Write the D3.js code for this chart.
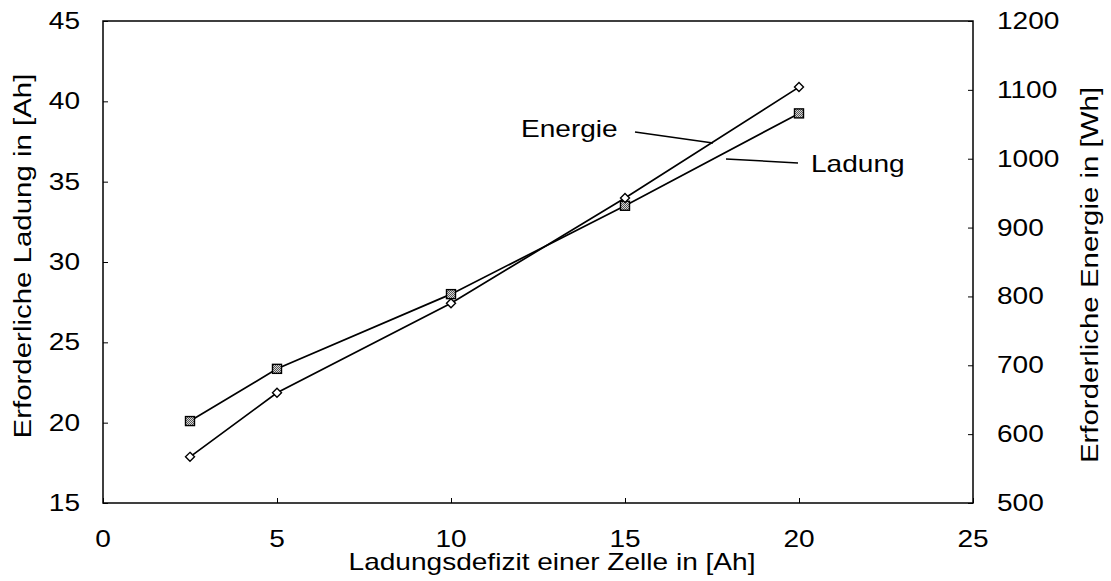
<!DOCTYPE html>
<html>
<head>
<meta charset="utf-8">
<script src="https://cdn.jsdelivr.net/npm/d3@7"></script>
<style>
  body { margin: 0; background: #fff; }
  svg text { font-family: 'Liberation Sans', Arial, sans-serif; fill: #000; }
</style>
</head>
<body>
<svg id="chart" width="1111" height="581"></svg>
<script>
const defizit = [2.5, 5, 10, 15, 20]
const ladung = [20.1, 23.35, 28.0, 33.5, 39.25]
const energie = [567, 660, 790, 943, 1104]

const xTicks = [0, 5, 10, 15, 20, 25]
const yLeftTicks = [15, 20, 25, 30, 35, 40, 45]
const yRightTicks = [500, 600, 700, 800, 900, 1000, 1100, 1200]

const svg = d3.select('#chart')
const margin = { left: 103, right: 138, top: 21, bottom: 78 }
const width = 1111 - margin.left - margin.right
const height = 581 - margin.top - margin.bottom

const xScale = d3.scaleLinear().domain([0, 25]).range([0, width])
const yLeft = d3.scaleLinear().domain([15, 45]).range([height, 0])
const yRight = d3.scaleLinear().domain([500, 1200]).range([height, 0])

// the original font is a bit wider than Liberation Sans
const fontSize = '23px'
const stretch = 'scale(1.22, 1)'
const stretchTitle = 'scale(1.28, 1)'

const defs = svg.append('defs')
const pat = defs.append('pattern').attr('id', 'hatch').attr('patternUnits', 'userSpaceOnUse').attr('width', 2).attr('height', 2)
pat.append('rect').attr('width', 2).attr('height', 2).attr('fill', '#d8d8d8')
pat.append('rect').attr('width', 1).attr('height', 1).attr('fill', '#555')
pat.append('rect').attr('x', 1).attr('y', 1).attr('width', 1).attr('height', 1).attr('fill', '#555')

const g = svg.append('g').attr('transform', `translate(${margin.left}, ${margin.top})`)

g.append('rect').attr('width', width).attr('height', height).attr('fill', 'none').attr('stroke', '#000').attr('stroke-width', 1.5)

// x axis, ticks pointing inward
const xAxis = g.append('g').attr('transform', `translate(0, ${height})`)
  .call(d3.axisTop(xScale).tickValues(xTicks).tickSize(5).tickFormat(''))
xAxis.select('.domain').remove()
g.selectAll('.xlabel').data(xTicks).enter().append('text')
  .attr('transform', (d) => `translate(${xScale(d)}, ${height + 44}) ${stretch}`)
  .attr('text-anchor', 'middle').attr('font-size', fontSize).text((d) => d)

const leftAxis = g.append('g').call(d3.axisRight(yLeft).tickValues(yLeftTicks).tickSize(5).tickFormat(''))
leftAxis.select('.domain').remove()
g.selectAll('.ylabel').data(yLeftTicks).enter().append('text')
  .attr('transform', (d) => `translate(-23, ${yLeft(d) + 8}) ${stretch}`)
  .attr('text-anchor', 'end').attr('font-size', fontSize).text((d) => d)

const rightAxis = g.append('g').attr('transform', `translate(${width}, 0)`)
  .call(d3.axisLeft(yRight).tickValues(yRightTicks).tickSize(5).tickFormat(''))
rightAxis.select('.domain').remove()
g.selectAll('.rlabel').data(yRightTicks).enter().append('text')
  .attr('transform', (d) => `translate(${width + 24}, ${yRight(d) + 8}) ${stretch}`)
  .attr('text-anchor', 'start').attr('font-size', fontSize).text((d) => d)

// axis titles
svg.append('text').attr('transform', `translate(31, 256) rotate(-90) ${stretchTitle}`)
  .attr('text-anchor', 'middle').attr('font-size', fontSize).text('Erforderliche Ladung in [Ah]')
svg.append('text').attr('transform', `translate(1098, 275) rotate(-90) ${stretchTitle}`)
  .attr('text-anchor', 'middle').attr('font-size', fontSize).text('Erforderliche Energie in [Wh]')
svg.append('text').attr('transform', `translate(552, 570) ${stretch}`)
  .attr('text-anchor', 'middle').attr('font-size', fontSize).text('Ladungsdefizit einer Zelle in [Ah]')

// lines
const lineL = d3.line().x((d, i) => xScale(defizit[i])).y((d) => yLeft(d))
const lineE = d3.line().x((d, i) => xScale(defizit[i])).y((d) => yRight(d))

g.append('path').datum(ladung).attr('d', lineL).attr('fill', 'none').attr('stroke', '#000').attr('stroke-width', 1.7)
g.append('path').datum(energie).attr('d', lineE).attr('fill', 'none').attr('stroke', '#000').attr('stroke-width', 1.7)

// markers
g.selectAll('.sq').data(ladung).enter().append('rect')
  .attr('x', (d, i) => xScale(defizit[i]) - 4.5).attr('y', (d) => yLeft(d) - 4.5)
  .attr('width', 9).attr('height', 9)
  .attr('fill', 'url(#hatch)').attr('stroke', '#000').attr('stroke-width', 1.4)

g.selectAll('.dia').data(energie).enter().append('path')
  .attr('transform', (d, i) => `translate(${xScale(defizit[i])}, ${yRight(d)})`)
  .attr('d', 'M0,-4.5L4.5,0L0,4.5L-4.5,0Z')
  .attr('fill', '#fff').attr('stroke', '#000').attr('stroke-width', 1.4)

// labels with leader lines
svg.append('text').attr('transform', `translate(521, 137) ${stretch}`).attr('font-size', fontSize).text('Energie')
svg.append('line').attr('x1', 635).attr('y1', 132).attr('x2', 713).attr('y2', 143).attr('stroke', '#000').attr('stroke-width', 1.5)
svg.append('text').attr('transform', `translate(811, 172) ${stretch}`).attr('font-size', fontSize).text('Ladung')
svg.append('line').attr('x1', 798).attr('y1', 163).attr('x2', 726).attr('y2', 159).attr('stroke', '#000').attr('stroke-width', 1.5)
</script>
</body>
</html>
